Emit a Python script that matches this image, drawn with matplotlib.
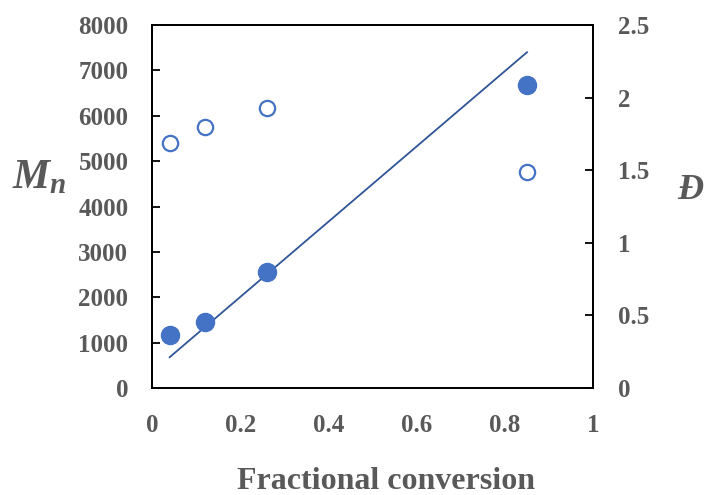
import matplotlib.pyplot as plt
import numpy as np

# conversion vs Mn (filled) and dispersity (open)
conversion = [0.04, 0.12, 0.26, 0.85]
mn_values = [1180, 1450, 2550, 6680]
dispersity = [1.69, 1.80, 1.93, 1.49]

# theoretical Mn line end points
line_x = [0.04, 0.85]
line_mn = [680, 7400]

plt.rcParams['font.family'] = ['Liberation Serif', 'DejaVu Serif']
plt.rcParams['font.weight'] = 'bold'
plt.rcParams['axes.labelweight'] = 'bold'
plt.rcParams['mathtext.fontset'] = 'custom'
plt.rcParams['mathtext.it'] = 'Liberation Serif:italic:bold'
plt.rcParams['mathtext.rm'] = 'Liberation Serif:bold'

GRAY = "#595959"
BLUE = "#4472C4"
LINE = "#2F5597"

fig = plt.figure(figsize=(7.07, 4.95), dpi=100)
ax = fig.add_axes([0.215, 0.216, 0.624, 0.7335])
ax2 = ax.twinx()

ax.plot(line_x, line_mn, color=LINE, lw=1.3, zorder=2)
ax.plot(conversion, mn_values, 'o', color=BLUE, ms=13, zorder=3)
ax2.plot(conversion, dispersity, 'o', mfc='white', mec=BLUE, mew=1.6, ms=11, zorder=3)

ax.set_xlim(0, 1)
ax.set_ylim(0, 8000)
ax2.set_ylim(0, 2.5)
ax.set_xticks(np.arange(0, 1.01, 0.2))
ax.set_xticklabels(["0", "0.2", "0.4", "0.6", "0.8", "1"])
ax.set_yticks(np.arange(0, 8001, 1000))
ax2.set_yticks([0, 0.5, 1, 1.5, 2, 2.5])
ax2.set_yticklabels(["0", "0.5", "1", "1.5", "2", "2.5"])

ax.tick_params(axis='x', length=0, pad=19, labelsize=18, labelcolor=GRAY)
ax.tick_params(axis='y', direction='in', length=6, width=1.3, pad=17,
               labelsize=18, labelcolor=GRAY)
ax2.tick_params(axis='y', direction='in', length=6, width=1.3, pad=18,
                labelsize=18, labelcolor=GRAY)

for a in (ax, ax2):
    for s in a.spines.values():
        s.set_linewidth(1.3)
        s.set_color("black")

fig.text(0.546, 0.012, "Fractional conversion", fontsize=23, color=GRAY,
         ha='center', va='baseline', weight='bold')
fig.text(0.055, 0.64, "$M_n$", fontsize=30, color=GRAY, ha='center', va='center')
fig.text(0.977, 0.615, "$Đ$", fontsize=26, color=GRAY, ha='center', va='center',
         style='italic', family=['Liberation Serif', 'DejaVu Serif'])

fig.savefig("out.png", dpi=100)
